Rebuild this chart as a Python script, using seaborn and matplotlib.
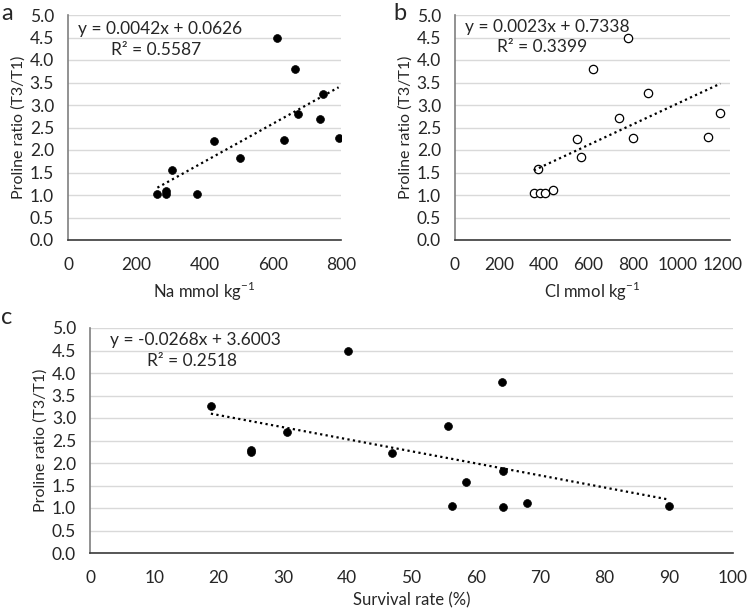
import numpy as np
import pandas as pd
import matplotlib
matplotlib.use('Agg')
import matplotlib.pyplot as plt
import seaborn as sns

# ── data ──
na = [262, 286, 286, 306, 378, 428, 503, 612, 634, 666, 673, 737, 746, 793]
prol_a = [1.03, 1.08, 1.03, 1.55, 1.02, 2.21, 1.83, 4.49, 2.23, 3.80, 2.80, 2.68, 3.25, 2.27]

cl = [354, 382, 406, 438, 372, 546, 568, 619, 735, 775, 801, 865, 1137, 1192]
prol_b = [1.04, 1.04, 1.04, 1.11, 1.58, 2.24, 1.84, 3.81, 2.70, 4.50, 2.26, 3.27, 2.29, 2.83]

surv = [18.8, 25.0, 25.0, 30.6, 40.1, 47.0, 55.6, 56.3, 58.4, 64.0, 64.3, 64.3, 68.0, 90.1]
prol_c = [3.26, 2.30, 2.25, 2.70, 4.50, 2.23, 2.82, 1.04, 1.57, 3.80, 1.83, 1.03, 1.11, 1.04]

# slope, intercept, R² shown in each panel
fit_a = (0.0042, 0.0626, 0.5587)
fit_b = (0.0023, 0.7338, 0.3399)
fit_c = (-0.0268, 3.6003, 0.2518)

y_ticks = [0.0, 0.5, 1.0, 1.5, 2.0, 2.5, 3.0, 3.5, 4.0, 4.5, 5.0]

sns.set_style('white')
plt.rcParams['font.family'] = ['Lato', 'DejaVu Sans']
plt.rcParams['text.color'] = '#262626'

W, H = 748, 613
FS = 12.5
fig = plt.figure(figsize=(W / 100, H / 100), dpi=100)


def px_axes(left, top, right, bottom):
    return fig.add_axes([left / W, 1 - bottom / H, (right - left) / W, (bottom - top) / H])


def style(ax, xlim, xticks, xlabel):
    ax.set_xlim(*xlim)
    ax.set_ylim(0, 5)
    ax.set_xticks(xticks)
    ax.set_yticks(y_ticks)
    ax.set_yticklabels([f'{v:.1f}' for v in y_ticks])
    ax.yaxis.grid(True, color='#d9d9d9', lw=1)
    ax.xaxis.grid(False)
    ax.set_axisbelow(True)
    for s in ['top', 'right']:
        ax.spines[s].set_visible(False)
    ax.spines['left'].set_color('#7f7f7f')
    ax.spines['bottom'].set_color('#3a3a3a')
    ax.spines['left'].set_linewidth(1.2)
    ax.spines['bottom'].set_linewidth(1.2)
    ax.tick_params(axis='x', length=0, pad=12, labelsize=FS, labelcolor='#262626')
    ax.tick_params(axis='y', length=0, pad=10, labelsize=FS, labelcolor='#262626')
    ax.set_xlabel(xlabel, fontsize=12, labelpad=5, color='#262626')
    ax.set_ylabel('Proline ratio (T3/T1)', fontsize=11.5, labelpad=3, color='#262626')


def trend(ax, x, fit):
    slope, icpt, _ = fit
    xs = np.array([min(x), max(x)])
    sns.lineplot(x=xs, y=slope * xs + icpt, ax=ax, color='black', lw=1.6,
                 linestyle=(0, (1, 1.5)))


def eq_text(x1, y1, x2, y2, fit):
    slope, icpt, r2 = fit
    fig.text(x1 / W, 1 - y1 / H, f'y = {slope}x + {icpt}', fontsize=FS, va='center', ha='left')
    fig.text(x2 / W, 1 - y2 / H, f'R² = {r2}', fontsize=FS, va='center', ha='left')


# panel a
ax_a = px_axes(68, 15, 341, 240)
sns.scatterplot(x=na, y=prol_a, ax=ax_a, color='black', s=32, edgecolor='black', linewidth=0.5)
trend(ax_a, na, fit_a)
style(ax_a, (0, 800), [0, 200, 400, 600, 800], 'Na mmol kg$^{\\mathregular{-1}}$')
eq_text(78, 29, 111, 50, fit_a)

# panel b
ax_b = px_axes(455, 15, 730, 240)
sns.scatterplot(x=cl, y=prol_b, ax=ax_b, color='white', s=36, edgecolor='black', linewidth=0.9)
trend(ax_b, cl, fit_b)
style(ax_b, (0, 1235), [0, 200, 400, 600, 800, 1000, 1200], 'Cl mmol kg$^{\\mathregular{-1}}$')
eq_text(465, 27, 497, 47, fit_b)

# panel c
ax_c = px_axes(90, 328, 733, 553)
sns.scatterplot(x=surv, y=prol_c, ax=ax_c, color='black', s=32, edgecolor='black', linewidth=0.5)
trend(ax_c, surv, fit_c)
style(ax_c, (0, 100), list(range(0, 101, 10)), 'Survival rate (%)')
eq_text(110, 340, 147, 361, fit_c)

fig.text(1 / W, 1 - 13 / H, 'a', fontsize=17, va='center', ha='left')
fig.text(393 / W, 1 - 13 / H, 'b', fontsize=17, va='center', ha='left')
fig.text(1 / W, 1 - 318 / H, 'c', fontsize=17, va='center', ha='left')

fig.savefig('out.png', dpi=100)
